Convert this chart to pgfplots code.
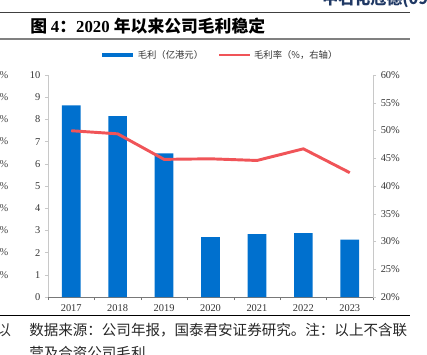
\documentclass[border=0pt]{standalone}
\usepackage{pgfplots}
\pgfplotsset{compat=1.18}
\usepackage{fontspec}
\setmainfont{Liberation Serif}
\newfontfamily\cjk{Noto Sans CJK SC}
\definecolor{barblue}{RGB}{0,112,206}
\definecolor{linered}{RGB}{240,84,88}
\definecolor{axgray}{RGB}{200,200,200}
\definecolor{axdark}{RGB}{120,120,120}
\definecolor{hdrblue}{RGB}{31,56,100}
\begin{document}
\begin{tikzpicture}
\path[use as bounding box] (0,0) rectangle (320.25pt,265.5pt);
\clip (0,0) rectangle (320.25pt,265.5pt);
% header fragment
\node[anchor=west, text=hdrblue, font=\cjk\bfseries\fontsize{12}{14}\selectfont, inner sep=0pt] at (241.5pt,266pt) {中石化冠德(0934)};
% lines
\draw[black!75, line width=0.8pt] (0,256.1pt) -- (307.5pt,256.1pt);
\draw[black!50, line width=1.2pt] (0,236.25pt) -- (307.5pt,236.25pt);
\draw[black, line width=0.8pt] (0,28.7pt) -- (307.5pt,28.7pt);
% title
\node[anchor=west, inner sep=0pt] at (22.5pt,245.6pt) {{\cjk\bfseries\fontsize{12.6}{14}\selectfont 图 }{\bfseries\fontsize{12.6}{14}\selectfont 4}{\cjk\bfseries\fontsize{12.6}{14}\selectfont ：}{\bfseries\fontsize{12.6}{14}\selectfont 2020 }{\cjk\bfseries\fontsize{12.6}{14}\selectfont 年以来公司毛利稳定}};
% neighbouring fragments
\foreach \yy in {0,...,9} {
  \node[anchor=east, inner sep=0pt, font=\fontsize{7.8}{9}\selectfont, text=black!75] at (6.5pt,{(279-\yy*22.2)*0.75pt}) {0\%};
}
\node[anchor=east, inner sep=0pt, font=\cjk\fontsize{11}{13}\selectfont, text=black!80] at (8.5pt,18pt) {以};
% footer
\node[anchor=west, inner sep=0pt, font=\cjk\fontsize{10.9}{13}\selectfont, text=black!85] at (21.75pt,18pt) {数据来源：公司年报，国泰君安证券研究。注：以上不含联};
\node[anchor=west, inner sep=0pt, font=\cjk\fontsize{10.9}{13}\selectfont, text=black!85] at (21.75pt,0.5pt) {营及合资公司毛利};

\begin{axis}[
  at={(36pt,42.75pt)}, anchor=south west,
  scale only axis, width=243.75pt, height=166.5pt,
  xmin=-0.5, xmax=6.5, ymin=0, ymax=10,
  axis y line*=left, axis x line*=bottom,
  xtick={0,...,6},
  xticklabels={2017,2018,2019,2020,2021,2022,2023},
  minor xtick={-0.5,0.5,...,6.5},
  ytick={0,1,...,10},
  tick align=outside,
  major tick length=2.3pt, minor tick length=2.3pt,
  x tick style={draw=none},
  minor x tick style={draw=axdark},
  y tick style={draw=axgray},
  x axis line style={draw=axdark, -},
  y axis line style={draw=axgray, -},
  tick label style={font=\fontsize{7.8}{9}\selectfont, text=black!80},
  /pgf/number format/assume math mode=true,
  ybar, bar width=14pt,
]
\addplot[fill=barblue, draw=none] coordinates {(0,8.63) (1,8.15) (2,6.47) (3,2.70) (4,2.83) (5,2.88) (6,2.59)};
\end{axis}

\begin{axis}[
  at={(36pt,42.75pt)}, anchor=south west,
  scale only axis, width=243.75pt, height=166.5pt,
  xmin=-0.5, xmax=6.5, ymin=20, ymax=60,
  axis y line*=right, axis x line=none,
  ytick={20,25,...,60},
  yticklabels={20\%,25\%,30\%,35\%,40\%,45\%,50\%,55\%,60\%},
  tick align=outside, major tick length=2.3pt,
  y tick style={draw=axgray},
  y axis line style={draw=axgray, -},
  tick label style={font=\fontsize{7.8}{9}\selectfont, text=black!80},
  legend columns=2,
  legend style={at={(0.53,1.09)}, anchor=center, draw=none, fill=none,
    font=\cjk\fontsize{7}{8}\selectfont, text=black!80,
    /tikz/every even column/.append style={column sep=9pt}},
  legend image code/.code={\draw[#1] (0pt,0pt) -- (23pt,0pt);},
]
\addlegendimage{barblue, line width=3pt}
\addlegendentry{毛利（亿港元）}
\addplot[linered, line width=2.2pt, mark=none] coordinates {(0,49.96) (1,49.4) (2,44.8) (3,44.9) (4,44.6) (5,46.7) (6,42.4)};
\addlegendentry{毛利率（\%，右轴）}
\end{axis}
\end{tikzpicture}
\end{document}
